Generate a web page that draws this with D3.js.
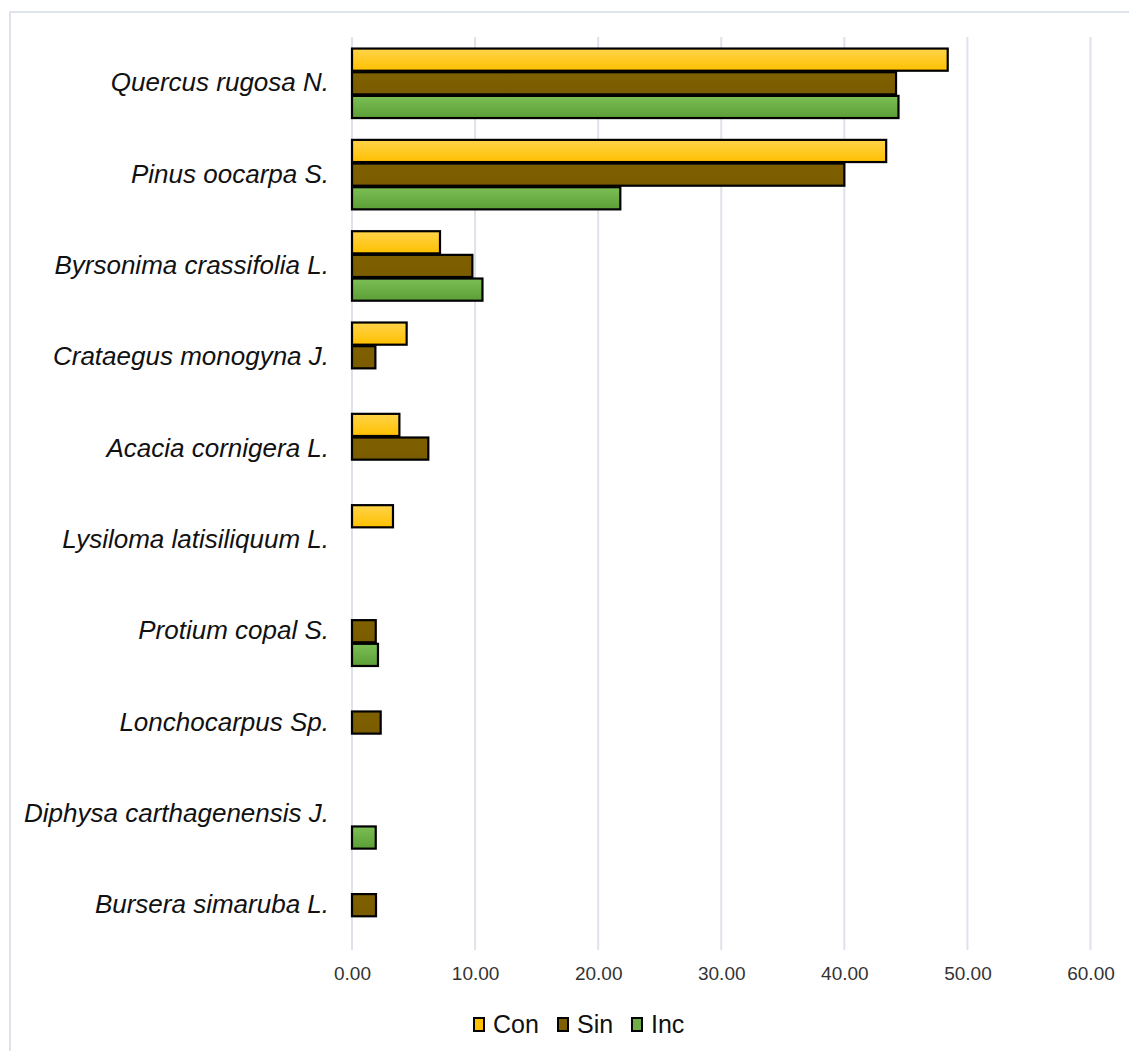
<!DOCTYPE html>
<html><head><meta charset="utf-8">
<script src="https://cdn.jsdelivr.net/npm/d3@7"></script>
<style>body{margin:0;background:#fff}svg{display:block}</style>
</head><body>
<script>
const categories = ["Quercus rugosa N.","Pinus oocarpa S.","Byrsonima crassifolia L.","Crataegus monogyna J.","Acacia cornigera L.","Lysiloma latisiliquum L.","Protium copal S.","Lonchocarpus Sp.","Diphysa carthagenensis J.","Bursera simaruba L."];
const seriesNames = ["Con","Sin","Inc"];
const conValues = [48.4, 43.4, 7.15, 4.44, 3.85, 3.33, null, null, null, null];
const sinValues = [44.2, 40.0, 9.78, 1.90, 6.2, null, 1.93, 2.33, null, 1.95];
const incValues = [44.4, 21.8, 10.6, null, null, null, 2.11, null, 1.93, null];
const tickValues = [0,10,20,30,40,50,60];
const tickLabels = ["0.00","10.00","20.00","30.00","40.00","50.00","60.00"];

const W = 1129, H = 1051;
const FONT = "Liberation Sans, Arial, sans-serif";
const svg = d3.select("body").append("svg").attr("width", W).attr("height", H);
const defs = svg.append("defs");
const grads = [["gCon","#ffd44a","#ffc000"],["gSin","#7f6000","#7a5c00"],["gInc","#7cbf55","#5c9e37"]];
grads.forEach(([id,a,b])=>{
  const g = defs.append("linearGradient").attr("id",id).attr("x1",0).attr("x2",0).attr("y1",0).attr("y2",1);
  g.append("stop").attr("offset","0%").attr("stop-color",a);
  g.append("stop").attr("offset","100%").attr("stop-color",b);
});
const fills = ["url(#gCon)","url(#gSin)","url(#gInc)"];
const swatch = ["#ffc000","#7f6000","#70ad47"];

// border
svg.append("path").attr("d","M10,1051 V12 H1129").attr("fill","none").attr("stroke","#dfe3ea").attr("stroke-width",2);

const x = d3.scaleLinear().domain([0,60]).range([352,1090.5]);
const y = d3.scaleBand().domain(categories).range([37.4,950.6]).paddingInner(0).paddingOuter(0);
const inner = d3.scaleBand().domain(seriesNames).range([0, 71]);
const groupOffset = (y.bandwidth()-71)/2;

// gridlines
svg.append("g").selectAll("line").data(tickValues).join("line")
  .attr("x1",d=>x(d)).attr("x2",d=>x(d)).attr("y1",37).attr("y2",950)
  .attr("stroke","#dfe2ea").attr("stroke-width",2);

// x axis labels
const xAxis = d3.axisBottom(x).tickValues(tickValues).tickFormat((d,i)=>tickLabels[i]).tickSize(0).tickPadding(0);
const gx = svg.append("g").attr("transform","translate(0,966)").call(xAxis);
gx.select(".domain").remove();
gx.selectAll("text").attr("font-family",FONT).attr("font-size",19).attr("fill","#333");

// y labels
const yAxis = d3.axisLeft(y).tickSize(0).tickPadding(23);
const gy = svg.append("g").attr("transform","translate(352,0)").call(yAxis);
gy.select(".domain").remove();
gy.selectAll("text").attr("font-family",FONT).attr("font-size",26).attr("font-style","italic").attr("fill","#111");

const seriesVals = [conValues, sinValues, incValues];
seriesNames.forEach((s, si) => {
  const data = categories.map((c,i)=>({c, v: seriesVals[si][i]})).filter(d=>d.v!=null);
  svg.append("g").selectAll("rect").data(data).join("rect")
    .attr("x", x(0))
    .attr("y", d => y(d.c) + groupOffset + inner(s) + 1)
    .attr("width", d => x(d.v) - x(0))
    .attr("height", inner.bandwidth() - 1.5)
    .attr("fill", fills[si])
    .attr("stroke", "#000").attr("stroke-width", 2.2);
});

// legend
const legendX = [473, 557, 631];
const lg = svg.append("g");
seriesNames.forEach((s,i)=>{
  lg.append("rect").attr("x",legendX[i]+1).attr("y",1018).attr("width",10).attr("height",13)
    .attr("fill",swatch[i]).attr("stroke","#000").attr("stroke-width",2);
  lg.append("text").attr("x",legendX[i]+20).attr("y",1033).text(s)
    .attr("font-family",FONT).attr("font-size",25).attr("fill","#111");
});
</script>
</body></html>
